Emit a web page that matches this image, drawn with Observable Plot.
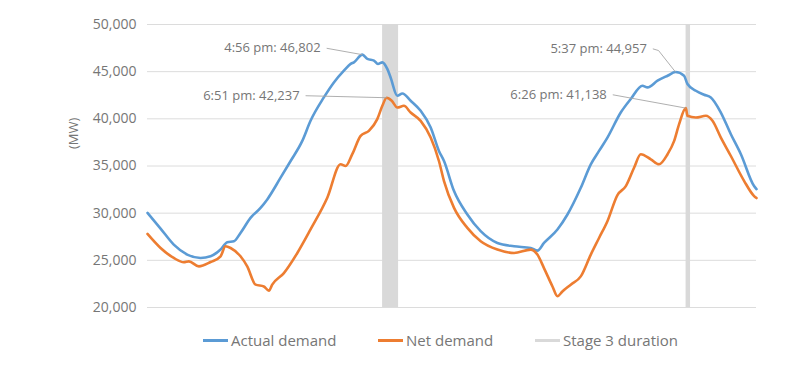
<!DOCTYPE html>
<html><head><meta charset="utf-8">
<script src="https://cdn.jsdelivr.net/npm/d3@7"></script>
<script src="https://cdn.jsdelivr.net/npm/@observablehq/plot@0.6"></script>
<style>
body{margin:0;background:#fff;font-family:"Open Sans",sans-serif;color:#767676}
#legend{position:relative;height:49px;width:800px}
.item{position:absolute;top:11px;display:flex;align-items:center;font-size:15px;line-height:18px;white-space:nowrap}
.sw{width:25px;height:3px;margin-right:3px}
</style></head><body><div id="chart"></div><div id="legend"></div>
<script>
// hours since midnight of day 1 (0–48)
const actualHours = [0,1.03,2.07,3.13,4.18,4.97,5.76,6.29,6.81,7.33,8.12,8.91,9.44,10.49,11.28,12.2,12.85,13.9,14.69,15.48,16.01,16.27,16.93,17.33,17.85,18.16,18.51,18.9,19.16,19.69,20.09,20.74,21.53,22.32,22.97,23.37,24.16,25.21,26.26,27.58,28.89,30.2,30.73,31.25,32.31,33.1,34.15,34.94,35.59,36.25,37.3,38.09,39.01,39.41,40.2,40.99,41.62,42.29,42.56,43.22,43.87,44.4,45.19,45.98,46.77,47.81,48];
const actualMW = [30030,28370,26670,25610,25250,25430,26140,26920,27020,27900,29500,30560,31460,33760,35530,37660,39790,42270,43860,45110,45820,45990,46802,46350,46170,45820,45990,45290,44390,42450,42690,41920,40850,39080,36600,35530,32340,29860,28090,26840,26490,26310,26030,26840,28270,29860,32690,35180,36600,38010,40670,42100,43510,43330,44040,44570,44957,44570,43690,42980,42550,42270,40670,38370,36250,32870,32550];
const netHours = [0,1.03,2.07,2.86,3.26,4.05,4.97,5.76,6.15,6.55,7.33,7.86,8.52,9.17,9.57,9.83,10.75,11.81,12.85,14.17,15.22,15.62,16.14,16.8,17.45,18.11,18.51,18.85,19.25,19.69,20.21,20.74,21.53,22.32,22.97,23.37,24.16,25.21,26.26,27.58,28.89,30.2,30.73,31.25,31.92,32.31,32.7,33.36,34.15,34.94,35.59,36.25,37.04,37.7,38.35,38.88,39.67,40.32,40.99,41.51,41.9,42.43,42.56,43.22,44.01,44.53,45.19,45.98,47.03,47.81,48];
const netMW = [27800,26310,25250,24790,24890,24360,24820,25430,26490,26310,25430,24360,22420,22230,21780,22420,23650,25780,28270,31630,35180,35000,36250,38190,38720,39970,41380,42237,41920,41200,41380,40670,39790,38010,35530,33400,30560,28440,27020,26140,25780,26140,25610,24180,22230,21200,21700,22420,23300,25610,27370,29150,31920,32870,34820,36250,35710,35180,36250,37660,39440,41138,40320,40140,40320,39790,38010,36060,33400,31810,31600];
const stageStart = [18.53, 42.45];
const stageEnd = [19.79, 42.8];
const yTicks = [20000,25000,30000,35000,40000,45000,50000];
const annoText = ["4:56 pm: 46,802","6:51 pm: 42,237","5:37 pm: 44,957","6:26 pm: 41,138"];
const annoHour = [16.93, 18.85, 41.62, 42.43];
const annoMW = [46802, 42237, 44957, 41138];
const labelHour = [14.12, 12.46, 39.83, 36.67];
const labelMW = [47480, 42450, 47420, 42550];
const bendHour = [14.12, 12.46, 40.28, 36.67];
const bendMW = [47480, 42450, 47240, 42550];
const seriesNames = ["Actual demand","Net demand","Stage 3 duration"];
const seriesColors = ["#5b9bd5","#ed7d31","#d9d9d9"];

const actual = actualHours.map((h,i)=>({h, v: actualMW[i]}));
const net = netHours.map((h,i)=>({h, v: netMW[i]}));
const stages = stageStart.map((s,i)=>({s, e: stageEnd[i]}));
const annos = annoText.map((t,i)=>({t, h: annoHour[i], v: annoMW[i], lh: labelHour[i], lv: labelMW[i], bh: bendHour[i], bv: bendMW[i]}));
const fmt = d3.format(",");
const txt = "#767676";

const chart = Plot.plot({
  width: 800, height: 320,
  marginLeft: 147, marginRight: 44, marginTop: 24, marginBottom: 13,
  x: {domain: [0, 48], axis: null},
  y: {domain: [20000, 50000], ticks: yTicks, tickFormat: d => fmt(d), tickSize: 0, tickPadding: 11, label: null},
  style: {fontFamily: "Open Sans, sans-serif", fontSize: "14px", color: txt, background: "#fff"},
  marks: [
    Plot.ruleY(yTicks, {stroke: "#dcdcdc", strokeWidth: 1}),
    Plot.rect(stages, {x1: "s", x2: "e", y1: () => 20000, y2: () => 50000, fill: seriesColors[2]}),
    Plot.line(actual, {x: "h", y: "v", stroke: seriesColors[0], strokeWidth: 2.6, curve: "monotone-x"}),
    Plot.line(net, {x: "h", y: "v", stroke: seriesColors[1], strokeWidth: 2.6, curve: "monotone-x"}),
    Plot.link(annos, {x1: "lh", y1: "lv", x2: "bh", y2: "bv", stroke: "#a6a6a6", strokeWidth: 0.9}),
    Plot.link(annos, {x1: "bh", y1: "bv", x2: "h", y2: "v", stroke: "#a6a6a6", strokeWidth: 0.9}),
    Plot.text(annos, {x: "lh", y: "lv", text: "t", textAnchor: "end", dx: -6, fontSize: 13, fill: txt}),
    Plot.text([{v: 36800}], {y: "v", frameAnchor: "left", dx: -74, text: () => "(MW)", rotate: -90, fontSize: 13, fill: txt})
  ]
});
document.getElementById("chart").appendChild(chart);

const lg = document.getElementById("legend");
const lefts = [203, 378, 535];
seriesNames.forEach((n,i)=>{
  const d = document.createElement("div");
  d.className = "item"; d.style.left = lefts[i] + "px";
  d.innerHTML = `<span class="sw" style="background:${seriesColors[i]}"></span><span>${n}</span>`;
  lg.appendChild(d);
});
</script></body></html>
